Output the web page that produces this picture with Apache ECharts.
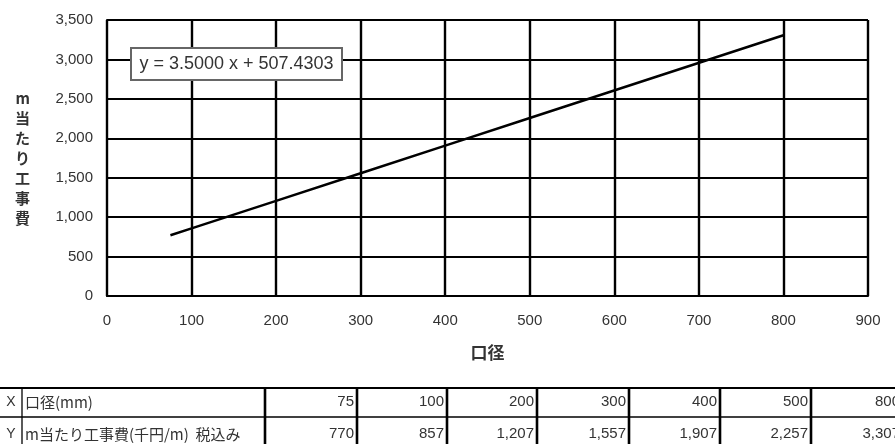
<!DOCTYPE html>
<html>
<head>
<meta charset="utf-8">
<script src="https://cdn.jsdelivr.net/npm/echarts@6/dist/echarts.min.js"></script>
<style>
  html, body { margin: 0; padding: 0; background: #fff; }
  #chart { width: 895px; height: 444px; }
</style>
</head>
<body>
<div id="chart"></div>
<script>
// 口径 (mm) and m当たり工事費 (千円/m, 税込み)
const diameters = [75, 100, 200, 300, 400, 500, 800];
const costs = [770, 857, 1207, 1557, 1907, 2257, 3307];
const equationText = 'y = 3.5000 x + 507.4303';
const xAxisTitle = '口径';
const yAxisTitle = 'm当たり工事費';
const rowX = ['X', '口径(mm)'];
const rowY = ['Y', 'm当たり工事費(千円/m)  税込み'];

const FONT = '"Liberation Sans", Arial, sans-serif';
const JP_FONT = '"Noto Sans CJK JP", sans-serif';
const fmt = v => v.toLocaleString('en-US');

const chart = echarts.init(document.getElementById('chart'));

// table under the chart
const colEdges = [0, 22, 265, 357, 447, 537, 629, 720, 811, 903];
const tableTop = 388, rowMid = 417, tableBottom = 450;
const tableEls = [];
tableEls.push({ type: 'line', shape: { x1: 0, y1: tableTop, x2: 895, y2: tableTop }, style: { stroke: '#000', lineWidth: 2 } });
tableEls.push({ type: 'line', shape: { x1: 0, y1: rowMid, x2: 895, y2: rowMid }, style: { stroke: '#000', lineWidth: 1.3 } });
colEdges.forEach((x, i) => {
  if (i === 0 || i === colEdges.length - 1) return;
  tableEls.push({
    type: 'line',
    shape: { x1: x, y1: tableTop, x2: x, y2: tableBottom },
    style: { stroke: '#000', lineWidth: i === 1 ? 1.3 : 2.6 }
  });
});
const rows = [
  { head: rowX, vals: diameters.map(fmt), y: 402 },
  { head: rowY, vals: costs.map(fmt), y: 434 }
];
rows.forEach(r => {
  tableEls.push({ type: 'text', style: { x: 11, y: r.y, text: r.head[0], textAlign: 'center', textVerticalAlign: 'middle', font: '14px ' + FONT, fill: '#333' } });
  tableEls.push({ type: 'text', style: { x: 25, y: r.y, text: r.head[1], textAlign: 'left', textVerticalAlign: 'middle', font: '15px ' + JP_FONT, fill: '#333' } });
  r.vals.forEach((v, j) => {
    tableEls.push({ type: 'text', style: { x: colEdges[j + 3] - 3, y: r.y, text: v, textAlign: 'right', textVerticalAlign: 'middle', font: '15px ' + FONT, fill: '#333' } });
  });
});

// regression equation label
tableEls.push({
  type: 'rect',
  shape: { x: 131, y: 48, width: 211, height: 32 },
  style: { fill: '#fff', stroke: '#666', lineWidth: 2 },
  z: 100
});
tableEls.push({
  type: 'text',
  style: { x: 236.5, y: 64, text: equationText, textAlign: 'center', textVerticalAlign: 'middle', font: '18px ' + FONT, fill: '#333' },
  z: 101
});

chart.setOption({
  animation: false,
  backgroundColor: '#fff',
  grid: { left: 107, right: 27, top: 20, bottom: 148, containLabel: false },
  xAxis: {
    type: 'value',
    min: 0, max: 900, interval: 100,
    name: xAxisTitle,
    nameLocation: 'middle',
    nameGap: 48,
    nameTextStyle: { fontFamily: JP_FONT, fontSize: 17, fontWeight: 'bold', color: '#333' },
    axisLine: { show: true, lineStyle: { color: '#000', width: 2 } },
    axisTick: { show: false },
    axisLabel: { margin: 17, fontFamily: FONT, fontSize: 15, color: '#333' },
    splitLine: { show: true, lineStyle: { color: '#000', width: 2.4 } }
  },
  yAxis: {
    type: 'value',
    min: 0, max: 3500, interval: 500,
    name: yAxisTitle.split('').join('\n'),
    nameLocation: 'middle',
    nameRotate: 0,
    nameGap: 77,
    nameTextStyle: { fontFamily: JP_FONT, fontSize: 15, fontWeight: 'bold', color: '#333', lineHeight: 20 },
    axisLine: { show: true, lineStyle: { color: '#000', width: 2 } },
    axisTick: { show: false },
    axisLabel: { margin: 14, fontFamily: FONT, fontSize: 15, color: '#333', formatter: v => fmt(v) },
    splitLine: { show: true, lineStyle: { color: '#000', width: 2 } }
  },
  series: [{
    type: 'line',
    data: diameters.map((d, i) => [d, costs[i]]),
    showSymbol: false,
    lineStyle: { color: '#000', width: 2.5 },
    z: 5
  }],
  graphic: tableEls
});
</script>
</body>
</html>
